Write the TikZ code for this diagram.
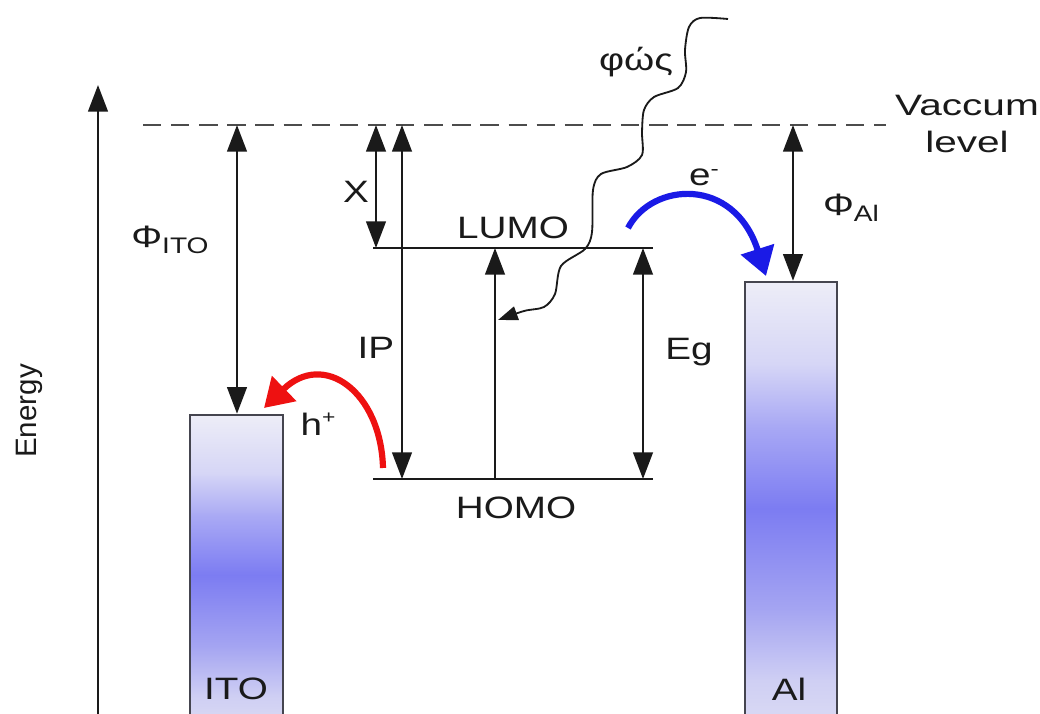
\documentclass[tikz,border=0pt]{standalone}
\usepackage{fontspec}
\setmainfont{Liberation Sans}
\usetikzlibrary{arrows.meta,fit}
\definecolor{elTop}{HTML}{EDEDF7}
\definecolor{elUp}{HTML}{D6D6F6}
\definecolor{elMid1}{HTML}{A8A8F4}
\definecolor{elPeak}{HTML}{7C7CF2}
\definecolor{elMid2}{HTML}{A4A4F2}
\definecolor{elLow}{HTML}{CFCFF3}
\definecolor{elBot}{HTML}{DDDDF4}
\definecolor{boxline}{HTML}{45454F}
\definecolor{ink}{HTML}{1A1A1A}
\definecolor{holeRed}{HTML}{EE1111}
\definecolor{elecBlue}{HTML}{1A1AE6}
\pgfdeclareverticalshading{electrode}{100bp}{color(0bp)=(elBot); color(25bp)=(elBot); color(31bp)=(elLow); color(39bp)=(elMid2); color(50bp)=(elPeak); color(59bp)=(elMid1); color(66bp)=(elUp); color(75bp)=(elTop); color(100bp)=(elTop)}
\begin{document}
\begin{tikzpicture}[x=0.025cm,y=-0.025cm,
  lvl/.style={line width=1.7pt, draw=ink},
  dbl/.style={line width=1.7pt, draw=ink, {Triangle[length=19pt,width=14pt]}-{Triangle[length=19pt,width=14pt]}},
  sgl/.style={line width=1.7pt, draw=ink, -{Triangle[length=19pt,width=14pt]}},
  electrode/.style={draw=boxline, line width=1.8pt, shading=electrode, rectangle, inner sep=0pt},
  lab/.style={font=\fontsize{22}{26}\selectfont, inner sep=0pt, xscale=1.25, text=ink},
  vac/.style={line width=1.7pt, draw=black!70, dash pattern=on 13pt off 7pt},
  carrier/.style={line width=4.4pt, -{Triangle[length=20pt,width=24pt]}}
]
\useasboundingbox (0,0) rectangle (1040,714);
\fill[white] (0,0) rectangle (1040,714);

% electrodes
\coordinate (itoTL) at (190,415); \coordinate (itoBR) at (283,735);
\coordinate (alTL) at (745,282);  \coordinate (alBR) at (837,735);
\node[electrode, fit=(itoTL)(itoBR)] (ito) {};
\node[electrode, fit=(alTL)(alBR)] (al) {};
\node[lab] (itolab) at (236,689) {ITO};
\node[lab] (allab) at (789,689) {Al};

% energy axis
\coordinate (eBot) at (98,730); \coordinate (eTop) at (98,85);
\draw[sgl] (eBot) -- (eTop);
\node[font=\fontsize{21}{24}\selectfont, inner sep=0pt, rotate=90, text=ink] (energy) at (29,411) {Energy};

% vacuum level
\coordinate (vL) at (143,125); \coordinate (vR) at (886,125);
\draw[vac] (vL) -- (vR);
\node[lab, align=center, font=\fontsize{21}{27}\selectfont, xscale=1.1] (vaclab) at (967,124) {Vaccum\\level};

% LUMO / HOMO
\coordinate (luL) at (373,248); \coordinate (luR) at (653,248);
\coordinate (hoL) at (373,479); \coordinate (hoR) at (653,479);
\draw[lvl] (luL) -- (luR);
\draw[lvl] (hoL) -- (hoR);
\node[lab] (lumo) at (513,228) {LUMO};
\node[lab] (homo) at (516,508) {HOMO};

% work function ITO
\coordinate (phiItoT) at (237,125);
\draw[dbl] (phiItoT) -- (ito.north -| phiItoT);
\node[lab] (phiIto) at (170,240) {Φ\raisebox{-0.38ex}{\fontsize{16}{16}\selectfont ITO}};

% chi
\coordinate (xT) at (376,125); \coordinate (xB) at (376,248);
\draw[dbl] (xT) -- (xB);
\node[lab] (xlab) at (356,192) {X};

% IP
\coordinate (ipT) at (402,125); \coordinate (ipB) at (402,479);
\draw[dbl] (ipT) -- (ipB);
\node[lab] (iplab) at (376,348) {IP};

% excitation arrow
\coordinate (exB) at (495,479); \coordinate (exT) at (495,248);
\draw[sgl] (exB) -- (exT);

% Eg
\coordinate (egT) at (643,248); \coordinate (egB) at (643,479);
\draw[dbl] (egT) -- (egB);
\node[lab] (eglab) at (689,352) {Eg};

% work function Al
\coordinate (phiAlT) at (793,125);
\draw[dbl] (phiAlT) -- (al.north -| phiAlT);
\node[lab] (phiAl) at (851,208) {Φ\raisebox{-0.38ex}{\fontsize{16}{16}\selectfont Al}};

% light
\node[lab] (light) at (636,62) {φώς};
\coordinate (lightEnd) at (498,320);
\draw[line width=1.3pt, draw=ink, -{Triangle[length=14pt,width=10pt]}]
  plot[smooth, tension=0.5] coordinates {(728,19) (700,18) (689,27) (685,50) (686,72) (678,88) (654,97) (644,110) (642,132) (642,155) (627,167) (601,174) (593,190) (592,232) (585,249) (561,266) (555,294) (544,307) (524,311) (lightEnd)};

% hole transfer
\coordinate (hS) at (383,468); \coordinate (hE) at (264,408);
\draw[carrier, draw=holeRed] (hS) .. controls (381,392) and (324,350) .. (hE);
\node[lab] (hlab) at (318,424) {h\raisebox{0.7ex}{\fontsize{13}{13}\selectfont +}};

% electron transfer
\coordinate (eS) at (628,228); \coordinate (eE) at (766,276);
\draw[carrier, draw=elecBlue] (eS) .. controls (652,182) and (734,176) .. (eE);
\node[lab] (elab) at (704,177) {e\raisebox{0.6ex}{\fontsize{14}{14}\selectfont -}};
\end{tikzpicture}
\end{document}
